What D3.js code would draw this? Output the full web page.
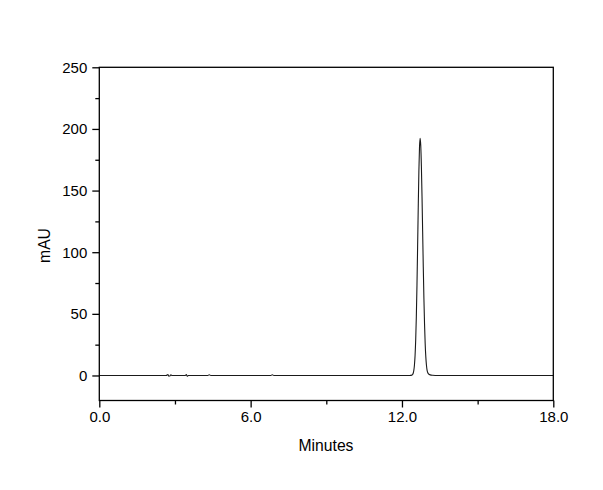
<!DOCTYPE html>
<html><head><meta charset="utf-8">
<script src="https://cdn.jsdelivr.net/npm/d3@7"></script>
<style>body{margin:0;background:#fff}svg{display:block}text{font-family:"Liberation Sans",Arial,sans-serif;fill:#000}</style>
</head><body><svg id="c" width="603" height="490"></svg>
<script>
// Chromatogram trace (time in minutes, absorbance in mAU)
const times = [0.0, 2.65, 2.72, 2.76, 2.80, 2.84, 2.88, 2.95, 3.40, 3.45, 3.49, 3.53, 3.58, 4.30, 4.36, 4.42, 4.48, 6.80, 6.86, 6.92, 6.98,
  12.30, 12.395, 12.42, 12.445, 12.47, 12.495, 12.52, 12.545, 12.57, 12.595, 12.62, 12.645, 12.67, 12.695, 12.72,
  12.745, 12.77, 12.795, 12.82, 12.845, 12.87, 12.895, 12.92, 12.945, 12.97, 12.995, 13.02, 13.07, 13.12, 13.22, 13.42, 18.0];
const mAU = [0.0, 0.0, 0.7, -0.6, -0.3, 0.6, 0.0, 0.0, 0.0, 0.7, -0.6, 0.0, 0.0, 0.0, 0.6, 0.0, 0.0, 0.0, 0.6, 0.0, 0.0,
  0.0, 0.28, 0.75, 1.8, 4.1, 8.5, 16.3, 29.1, 48.0, 73.3, 103.8, 136.1, 165.0, 185.2, 192.5,
  186.6, 169.8, 145.3, 116.8, 88.1, 62.5, 41.7, 26.0, 15.3, 8.5, 4.4, 2.4, 1.0, 0.5, 0.2, 0.0, 0.0];
const xMajorTicks = [0, 6, 12, 18];
const xMinorTicks = [3, 9, 15];
const yMajorTicks = [0, 50, 100, 150, 200, 250];
const yMinorTicks = [25, 75, 125, 175, 225];
const xTitle = "Minutes", yTitle = "mAU";

const svg = d3.select("#c");
const L = 99.3, R = 553.3, T = 67.3, B = 400.5;
const x = d3.scaleLinear().domain([0, 18]).range([L, R]);
const y = d3.scaleLinear().domain([-20.3, 250]).range([B, T]);

const g = svg.append("g");
const pts = times.map((t, i) => [t, mAU[i]]);
g.append("path").datum(pts)
  .attr("fill", "none").attr("stroke", "#1a1a1a").attr("stroke-width", 1.1)
  .attr("d", d3.line().x(d => x(d[0])).y(d => y(d[1])).curve(d3.curveMonotoneX));

g.append("rect").attr("x", L).attr("y", T).attr("width", R - L).attr("height", B - T)
  .attr("fill", "none").attr("stroke", "#000").attr("stroke-width", 1.3);

const xAx = svg.append("g").attr("transform", `translate(0,${B})`)
  .call(d3.axisBottom(x).tickValues(xMajorTicks).tickFormat(d3.format(".1f")).tickSize(7).tickPadding(4));
const xAxMin = svg.append("g").attr("transform", `translate(0,${B})`)
  .call(d3.axisBottom(x).tickValues(xMinorTicks).tickFormat("").tickSize(4));
const yAx = svg.append("g").attr("transform", `translate(${L},0)`)
  .call(d3.axisLeft(y).tickValues(yMajorTicks).tickFormat(d3.format("d")).tickSize(7).tickPadding(5));
const yAxMin = svg.append("g").attr("transform", `translate(${L},0)`)
  .call(d3.axisLeft(y).tickValues(yMinorTicks).tickFormat("").tickSize(4));
[xAx, xAxMin, yAx, yAxMin].forEach(a => {
  a.select(".domain").remove();
  a.selectAll("line").attr("stroke", "#000").attr("stroke-width", 1.3);
  a.selectAll("text").attr("font-size", 15).attr("font-family", '"Liberation Sans",Arial,sans-serif').attr("fill", "#000");
});

svg.append("text").attr("x", 326).attr("y", 451).attr("text-anchor", "middle").attr("font-size", 15.7).text(xTitle);
svg.append("text").attr("transform", "translate(50,245.5) rotate(-90)").attr("text-anchor", "middle").attr("font-size", 15.7).text(yTitle);
</script></body></html>
